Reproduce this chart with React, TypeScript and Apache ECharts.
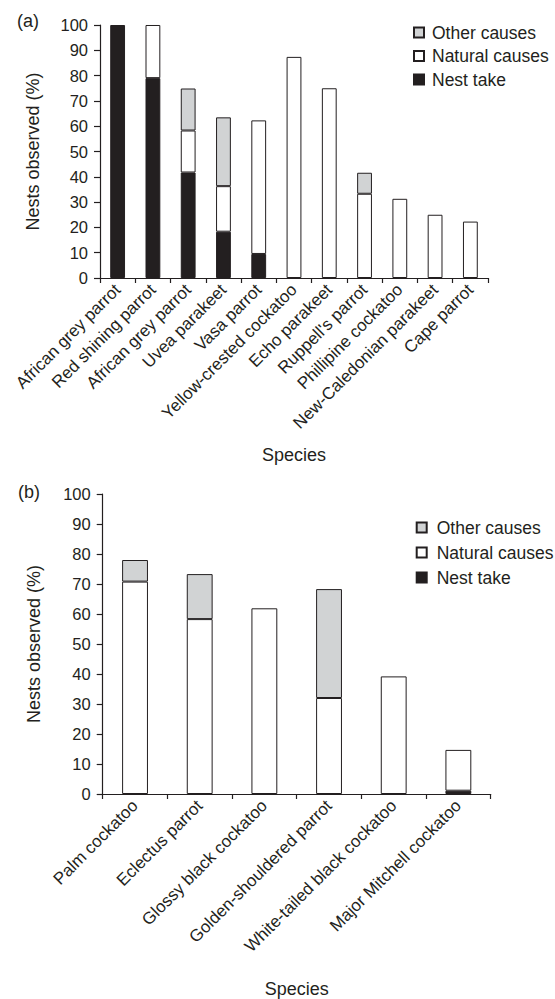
import React, { useEffect, useRef } from "react";
import * as echarts from "echarts";

// Panel (a)
const speciesA = [
  "African grey parrot",
  "Red shining parrot",
  "African grey parrot",
  "Uvea parakeet",
  "Vasa parrot",
  "Yellow-crested cockatoo",
  "Echo parakeet",
  "Ruppell's parrot",
  "Phillipine cockatoo",
  "New-Caledonian parakeet",
  "Cape parrot",
];
const nestTakeA = [100, 79, 41.7, 18.3, 9.5, null, null, null, null, null, null];
const naturalA = [null, 21, 16.6, 18, 52.8, 87.4, 75, 33.3, 31.3, 25, 22.3];
const otherA = [null, null, 16.6, 27.2, null, null, null, 8.3, null, null, null];

// Panel (b)
const speciesB = [
  "Palm cockatoo",
  "Eclectus parrot",
  "Glossy black cockatoo",
  "Golden-shouldered parrot",
  "White-tailed black cockatoo",
  "Major Mitchell cockatoo",
];
const nestTakeB = [null, null, null, null, null, 1.1];
const naturalB = [70.8, 58.3, 61.9, 32, 39.2, 13.6];
const otherB = [7.2, 15, null, 36.3, null, null];

const yTicks = { min: 0, max: 100, interval: 10 };
const legendNames = ["Other causes", "Natural causes", "Nest take"];

const INK = "#231f20";
const GREY = "#d1d3d4";
const FONT = "'Liberation Sans', Arial, Helvetica, sans-serif";

export default function App() {
  const ref = useRef<HTMLDivElement>(null);
  useEffect(() => {
    if (!ref.current) return;
    const chart = echarts.init(ref.current, null, { renderer: "svg" });

    const yAxisBase = (gridIndex: number, nameGap: number) => ({
      type: "value",
      gridIndex,
      min: yTicks.min,
      max: yTicks.max,
      interval: yTicks.interval,
      name: "Nests observed (%)",
      nameLocation: "middle",
      nameGap,
      nameTextStyle: { fontSize: 18, color: INK, fontFamily: FONT },
      axisLine: { show: true, lineStyle: { color: INK, width: 1.2 } },
      axisTick: { show: true, length: 6, lineStyle: { color: INK, width: 1.2 } },
      axisLabel: { fontSize: 16.5, color: INK, fontFamily: FONT, margin: 12 },
      splitLine: { show: false },
    });

    const xAxisBase = (gridIndex: number, data: string[], nameGap: number) => ({
      type: "category",
      gridIndex,
      data,
      name: "Species",
      nameLocation: "middle",
      nameGap,
      nameTextStyle: { fontSize: 18, color: INK, fontFamily: FONT },
      axisLine: { show: true, lineStyle: { color: INK, width: 1.2 } },
      axisTick: { show: true, length: 5, lineStyle: { color: INK, width: 1.2 } },
      axisLabel: {
        interval: 0,
        rotate: 45,
        fontSize: 17,
        color: INK,
        fontFamily: FONT,
        margin: 9,
      },
    });

    const barSeries = (
      name: string,
      data: (number | null)[],
      color: string,
      idx: number,
      width: string
    ) => ({
      type: "bar",
      name,
      data,
      xAxisIndex: idx,
      yAxisIndex: idx,
      stack: "s" + idx,
      barWidth: width,
      itemStyle: { color, borderColor: INK, borderWidth: 1 },
    });

    const legendBase = (left: number, top: number, itemGap: number, textPad: number) => ({
      orient: "vertical",
      left,
      top,
      padding: 0,
      itemGap,
      icon: "rect",
      itemWidth: 10,
      itemHeight: 10,
      data: legendNames,
      textStyle: {
        fontSize: 17.5,
        color: INK,
        fontFamily: FONT,
        lineHeight: 17,
        padding: [0, 0, 0, textPad],
      },
      selectedMode: false,
    });

    chart.setOption({
      animation: false,
      backgroundColor: "#ffffff",
      textStyle: { fontFamily: FONT },
      grid: [
        { left: 100, top: 25, width: 388, height: 253 },
        { left: 102.7, top: 494, width: 388, height: 300 },
      ],
      xAxis: [xAxisBase(0, speciesA, 168), xAxisBase(1, speciesB, 186)],
      yAxis: [yAxisBase(0, 58), yAxisBase(1, 60)],
      legend: [legendBase(413, 23.5, 5.5, 3), legendBase(415.7, 518.5, 7, 5)],
      series: [
        barSeries("Nest take", nestTakeA, INK, 0, "42%"),
        barSeries("Natural causes", naturalA, "#ffffff", 0, "42%"),
        barSeries("Other causes", otherA, GREY, 0, "42%"),
        barSeries("Nest take", nestTakeB, INK, 1, "40%"),
        barSeries("Natural causes", naturalB, "#ffffff", 1, "40%"),
        barSeries("Other causes", otherB, GREY, 1, "40%"),
      ],
      graphic: [
        {
          type: "text",
          left: 17,
          top: 12,
          style: { text: "(a)", fontSize: 18, fill: INK, fontFamily: FONT },
        },
        {
          type: "text",
          left: 18,
          top: 483,
          style: { text: "(b)", fontSize: 18, fill: INK, fontFamily: FONT },
        },
      ],
    });
    return () => chart.dispose();
  }, []);

  return (
    <div
      ref={ref}
      style={{ position: "absolute", left: 0, top: 0, width: 555, height: 999, background: "#fff" }}
    />
  );
}
